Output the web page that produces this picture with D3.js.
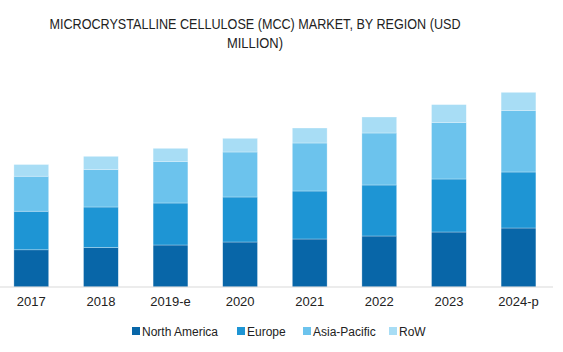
<!DOCTYPE html>
<html>
<head>
<meta charset="utf-8">
<script src="https://cdn.jsdelivr.net/npm/d3@7"></script>
<style>
  body { margin: 0; background: #fff; }
  svg { display: block; }
</style>
</head>
<body>
<div id="graph"></div>
<script>
// The data (USD million)
var years       = [ '2017', '2018', '2019-e', '2020', '2021', '2022', '2023', '2024-p' ];
var regions     = [ 'North America', 'Europe', 'Asia-Pacific', 'RoW' ];
var northAmerica = [ 372, 394, 420, 450, 480, 510, 550, 590 ];
var europe       = [ 386, 406, 420, 450, 480, 510, 530, 560 ];
var asiaPacific  = [ 350, 377, 417, 450, 480, 520, 567, 617 ];
var row          = [ 117, 130, 130, 137, 150, 160, 177, 180 ];

var colours = [ '#0866a8', '#1e95d4', '#6cc3ed', '#a8ddf5' ];

var width  = 563;
var height = 352;

var baseY = 287;

var svg = d3.select ('#graph').append ('svg')
            .attr ('width', width)
            .attr ('height', height);

// Title
var title = svg.append ('text')
   .attr ('font-family', 'Liberation Sans, Arial, sans-serif')
   .attr ('font-size', '14px')
   .attr ('fill', '#222')
   .attr ('text-anchor', 'middle');

title.append ('tspan')
     .attr ('x', 255).attr ('y', 29)
     .attr ('textLength', 411)
     .attr ('lengthAdjust', 'spacingAndGlyphs')
     .text ('MICROCRYSTALLINE CELLULOSE (MCC) MARKET, BY REGION (USD');

title.append ('tspan')
     .attr ('x', 255).attr ('y', 48)
     .attr ('textLength', 56)
     .attr ('lengthAdjust', 'spacingAndGlyphs')
     .text ('MILLION)');

// Scales
var xScale = d3.scaleBand ()
               .domain (years)
               .range ([ -3.5, 553.3 ])
               .paddingInner (0.5)
               .paddingOuter (0.25);

var yScale = d3.scaleLinear ()
               .domain ([ 0, 2000 ])
               .range ([ baseY, baseY - 200 ]);

// Stack the series
var table = years.map (function (y, i) {
    return { year: y, 'North America': northAmerica[i], 'Europe': europe[i],
             'Asia-Pacific': asiaPacific[i], 'RoW': row[i] };
});

var stacked = d3.stack ().keys (regions) (table);

svg.selectAll ('g.series')
   .data (stacked)
   .enter ()
   .append ('g')
   .attr ('class', 'series')
   .attr ('fill', function (d, i) { return colours[i]; })
   .selectAll ('rect')
   .data (function (d) { return d; })
   .enter ()
   .append ('rect')
   .attr ('x',      function (d) { return xScale (d.data.year); })
   .attr ('y',      function (d) { return yScale (d[1]); })
   .attr ('width',  xScale.bandwidth ())
   .attr ('height', function (d) { return yScale (d[0]) - yScale (d[1]); })
   .attr ('stroke', '#ffffff')
   .attr ('stroke-opacity', 0.5)
   .attr ('stroke-width', 0.6);

// X axis
var xAxis = d3.axisBottom (xScale).tickSize (0).tickPadding (10);

var gx = svg.append ('g')
   .attr ('transform', 'translate(0,' + baseY + ')')
   .call (xAxis);

gx.select ('.domain').remove ();
gx.append ('line')
  .attr ('x1', 0).attr ('x2', 553)
  .attr ('y1', 0).attr ('y2', 0)
  .attr ('stroke', '#d9d9d9')
  .attr ('stroke-width', 1);

gx.selectAll ('text')
  .attr ('font-family', 'Liberation Sans, Arial, sans-serif')
  .attr ('font-size', '13px')
  .attr ('fill', '#222');

// Legend
var legendX = [ 132, 237, 303, 389 ];
var legend = svg.selectAll ('g.legend')
   .data (regions)
   .enter ()
   .append ('g')
   .attr ('class', 'legend')
   .attr ('transform', function (d, i) { return 'translate(' + legendX[i] + ',331)'; });

legend.append ('rect')
      .attr ('x', 0).attr ('y', -4)
      .attr ('width', 8).attr ('height', 8)
      .attr ('fill', function (d, i) { return colours[i]; });

legend.append ('text')
      .attr ('x', 10).attr ('y', 4.5)
      .attr ('font-family', 'Liberation Sans, Arial, sans-serif')
      .attr ('font-size', '12px')
      .attr ('fill', '#222')
      .text (function (d) { return d; });
</script>
</body>
</html>
